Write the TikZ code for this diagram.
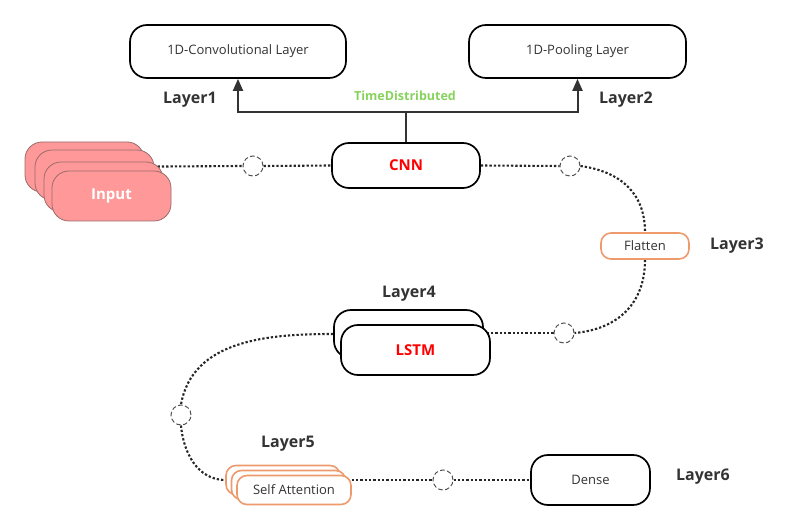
\documentclass[tikz,border=0pt]{standalone}
\usepackage{fontspec}
\setmainfont{Open Sans}
\usetikzlibrary{arrows.meta,backgrounds}
\definecolor{ink}{HTML}{333333}
\definecolor{pinkfill}{HTML}{FF9999}
\definecolor{pinkline}{HTML}{9A6A6A}
\definecolor{orangeline}{HTML}{EE9A6C}
\definecolor{tdgreen}{HTML}{86D25C}
\definecolor{cnnred}{HTML}{FF0000}
\begin{document}
\begin{tikzpicture}[x=1pt,y=-1pt,
  box/.style={draw=black, line width=1.7pt, rounded corners=17pt, fill=white, inner sep=0pt, font=\fontsize{13}{15}\selectfont\color{ink}},
  inbox/.style={draw=pinkline, line width=0.8pt, rounded corners=17pt, fill=pinkfill, inner sep=0pt, minimum width=119pt, minimum height=50pt, font=\fontsize{15}{17}\selectfont\bfseries\color{white}},
  obox/.style={draw=orangeline, line width=1.6pt, rounded corners=10pt, fill=white, inner sep=0pt, font=\fontsize{13}{15}\selectfont\color{ink}},
  redlbl/.style={font=\fontsize{15}{17}\selectfont\bfseries\color{cnnred}},
  layerlbl/.style={font=\fontsize{16}{18}\selectfont\bfseries, text=ink},
  hole/.style={circle, draw=ink!85, dashed, dash pattern=on 4.5pt off 2.5pt, line width=1pt, minimum size=20pt, inner sep=0pt},
  dotline/.style={draw=black!85, line width=2.1pt, dash pattern=on 2.3pt off 2pt},
  arr/.style={draw=ink, line width=2pt, -{Triangle[length=12pt,width=10pt]}}
]
\useasboundingbox (0,0) rectangle (809,529);

% top boxes
\node[box, minimum width=216pt, minimum height=53pt] (conv) at (238,51.5) {1D-Convolutional Layer};
\node[box, minimum width=217pt, minimum height=53pt] (pool) at (577.5,51.5) {1D-Pooling Layer};

% CNN
\node[box, minimum width=148pt, minimum height=45pt, redlbl] (cnn) at (406,165.5) {CNN};

% Input stack
\node[inbox] (in0) at (84.5,167) {};
\node[inbox] (in1) at (94.5,175) {};
\node[inbox] (in2) at (103.5,187) {};
\node[inbox] (in3) at (111.5,196) {Input};

% Flatten
\node[obox, minimum width=88pt, minimum height=26pt] (flat) at (645,246) {Flatten};

% LSTM
\node[box, minimum width=149pt, minimum height=48pt] (lstmB) at (408.5,334) {};
\node[box, minimum width=149pt, minimum height=50pt, redlbl] (lstmF) at (415.5,350) {LSTM};

% Self attention stack
\node[obox, minimum width=114pt, minimum height=29pt] (sa0) at (283,480) {};
\node[obox, minimum width=114pt, minimum height=29pt] (sa1) at (288.5,485) {};
\node[obox, minimum width=114pt, minimum height=29pt] (sa2) at (294,490) {Self Attention};

% Dense
\node[box, minimum width=119pt, minimum height=50pt] (dense) at (590.5,480) {Dense};

% dashed circles
\node[hole] (c1) at (253,166) {};
\node[hole] (c2) at (570,166) {};
\node[hole] (c3) at (564,333) {};
\node[hole] (c4) at (181,415) {};
\node[hole] (c5) at (443,480) {};

% labels
\node[layerlbl] (l1) at (190,100) {Layer1};
\node[layerlbl] (l2) at (626,100) {Layer2};
\node[layerlbl] (l3) at (737,246) {Layer3};
\node[layerlbl] (l4) at (409,294) {Layer4};
\node[layerlbl] (l5) at (288,444) {Layer5};
\node[layerlbl] (l6) at (703,477) {Layer6};
\node[font=\fontsize{12.5}{15}\selectfont\bfseries, text=tdgreen] (td) at (405,96) {TimeDistributed};

% TimeDistributed arrows
\coordinate (split) at (406,112);
\draw[draw=ink, line width=2pt] (cnn.north) -- (split);
\draw[arr] (split) -| (conv.south);
\draw[arr] (split) -| (pool.south);

% dotted connectors
\begin{scope}[on background layer]
\draw[dotline] (in0.center) -- (c1.west);
\draw[dotline] (c1.east) -- (cnn.west);
\draw[dotline] (cnn.east) -- (c2.west);
\draw[dotline] (c2.east) to[out=-8, in=90, looseness=1.1] (flat.north);
\draw[dotline] (flat.south) to[out=-90, in=5, looseness=1.1] (c3.east);
\draw[dotline] (c3.west) -- (lstmB.center |- c3.west);
\draw[dotline] (lstmB.west) to[out=180, in=80, looseness=1] (c4.north);
\draw[dotline] (c4.south) to[out=-85, in=180, looseness=1] (sa0.west);
\draw[dotline] (sa0.center) -- (c5.west);
\draw[dotline] (c5.east) -- (dense.west);
\end{scope}
\end{tikzpicture}
\end{document}
